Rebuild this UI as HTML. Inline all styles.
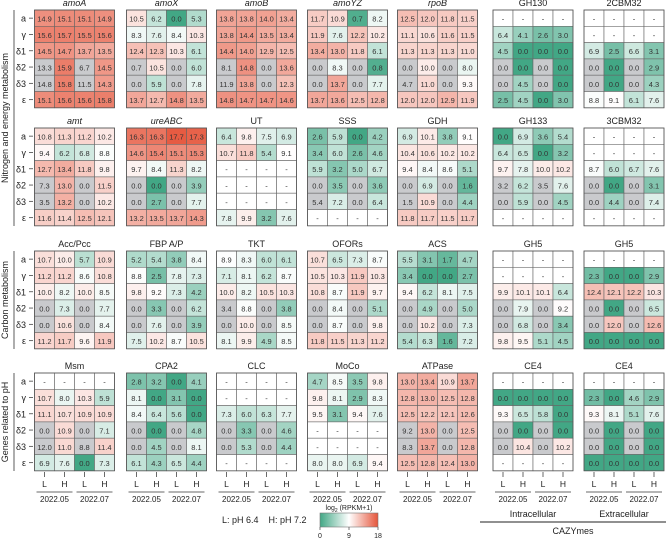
<!DOCTYPE html>
<html><head><meta charset="utf-8">
<style>
body{margin:0;background:#fff;}
svg{display:block;font-family:"Liberation Sans",sans-serif;}
</style></head>
<body>
<svg id="chart" width="666" height="541" viewBox="0 0 666 541" xmlns="http://www.w3.org/2000/svg"></svg>
<script>
const rowLabels = ["a","γ","δ1","δ2","δ3","ε"];
const colLabels = ["L","H","L","H"];
const dateLabels = ["2022.05","2022.07"];
const N = null;
const D = [N,N,N,N];
const panelNames = [
 ["amoA","amoX","amoB","amoYZ","rpoB","GH130","2CBM32"],
 ["amt","ureABC","UT","SSS","GDH","GH133","3CBM32"],
 ["Acc/Pcc","FBP A/P","TKT","OFORs","ACS","GH5","GH5"],
 ["Msm","CPA2","CLC","MoCo","ATPase","CE4","CE4"]
];
const italicNames = ["amoA","amoX","amoB","amoYZ","rpoB","amt","ureABC"];
const row1Values = [
 [[14.9,15.1,15.1,14.9],[15.6,15.7,15.5,15.6],[14.5,14.7,13.7,13.5],[13.3,15.9,6.7,14.5],[14.8,15.8,11.5,14.3],[15.1,15.6,15.6,15.8]],
 [[10.5,6.2,0.0,5.3],[8.3,7.6,8.4,10.3],[12.4,12.3,10.3,6.1],[0.7,10.5,0.0,6.0],[0.0,5.9,0.0,7.8],[13.7,12.7,14.8,13.5]],
 [[13.8,13.8,14.0,13.4],[13.8,14.4,13.5,13.4],[14.4,14.0,12.9,12.5],[8.1,14.8,0.0,13.6],[11.9,13.8,0.0,12.3],[14.8,14.7,14.7,14.6]],
 [[11.7,10.9,0.7,8.2],[11.9,7.6,12.2,10.2],[13.4,13.0,11.8,6.1],[0.0,8.3,0.0,0.8],[0.0,13.7,0.0,7.7],[13.7,13.6,12.5,12.8]],
 [[12.5,12.0,11.8,11.5],[11.1,10.6,11.6,11.5],[11.3,11.3,11.3,11.0],[0.0,10.0,0.0,8.0],[4.7,11.0,0.0,9.3],[12.0,12.0,12.9,11.9]],
 [D,[6.4,4.1,2.6,3.0],[4.5,0.0,0.0,0.0],[0.0,0.0,0.0,0.0],[0.0,4.5,0.0,0.0],[2.5,4.5,0.0,3.0]],
 [D,D,[6.9,2.5,6.6,3.1],[0.0,0.0,0.0,2.9],[0.0,0.0,0.0,4.3],[8.8,9.1,6.1,7.6]]
];
const row2Values = [
 [[10.8,11.3,11.2,10.2],[9.4,6.2,6.8,8.8],[12.7,13.4,11.8,9.8],[7.3,13.0,0.0,11.5],[3.5,13.2,0.0,10.2],[11.6,11.4,12.5,12.1]],
 [[16.3,16.3,17.7,17.3],[14.6,15.4,15.1,15.3],[9.7,8.4,11.3,8.2],[0.0,0.0,0.0,3.9],[0.0,2.7,0.0,7.7],[13.2,13.5,13.7,14.3]],
 [[6.4,9.8,7.5,6.9],[10.7,11.8,5.4,9.1],D,D,D,[7.8,9.9,3.2,7.6]],
 [[2.6,5.9,0.0,4.2],[3.4,6.0,2.6,4.6],[5.9,3.2,5.0,6.7],[0.0,3.5,0.0,3.6],[5.4,7.2,0.0,6.4],D],
 [[6.9,10.1,3.8,9.1],[10.4,10.6,10.2,10.2],[9.4,8.4,8.6,5.1],[0.0,6.9,0.0,1.6],[1.5,10.9,0.0,4.4],[11.8,11.7,11.5,11.7]],
 [[0.0,6.9,3.6,5.4],[6.4,6.5,0.0,3.2],[9.7,7.8,10.0,10.2],[3.2,6.2,3.5,7.6],[0.0,5.9,0.0,4.5],D],
 [D,D,[8.7,6.0,6.7,7.6],[0.0,0.0,0.0,3.1],[0.0,4.4,0.0,7.4],D]
];
const row3Values = [
 [[10.7,10.0,5.7,10.9],[11.2,11.2,8.6,10.8],[10.0,8.2,10.0,8.5],[0.0,7.3,0.0,7.7],[0.0,10.6,0.0,8.4],[11.2,11.7,9.6,11.9]],
 [[5.2,5.4,3.8,8.4],[8.8,2.5,7.8,7.3],[9.8,9.2,7.3,4.2],[0.0,3.3,0.0,6.2],[0.0,7.6,0.0,3.9],[7.5,10.2,8.7,10.5]],
 [[8.9,8.3,6.0,6.1],[7.1,8.1,6.2,8.7],[10.0,8.2,10.5,10.3],[3.4,8.8,0.0,3.8],[0.0,10.0,0.0,8.5],[8.1,9.9,4.9,8.5]],
 [[10.7,6.5,7.3,8.7],[10.5,10.3,11.9,10.3],[10.8,8.7,11.9,9.7],[0.0,8.4,0.0,5.1],[0.0,8.7,0.0,9.8],[11.8,11.5,11.3,11.2]],
 [[5.5,3.1,1.7,4.7],[3.4,0.0,0.0,2.7],[9.4,6.2,8.1,7.5],[0.0,4.9,0.0,5.0],[0.0,10.2,0.0,7.3],[5.4,6.3,1.6,7.2]],
 [D,D,[9.9,10.1,10.1,6.4],[0.0,7.9,0.0,9.2],[0.0,6.8,0.0,3.4],[9.8,9.5,5.1,4.5]],
 [D,[2.3,0.0,0.0,2.9],[12.4,12.1,12.2,10.3],[0.0,0.0,0.0,6.5],[0.0,12.0,0.0,12.6],[0.0,0.0,0.0,0.0]]
];
const row4Values = [
 [D,[10.7,8.0,10.3,5.9],[11.1,10.7,10.9,10.9],[0.0,10.9,0.0,7.1],[12.0,11.0,8.8,11.4],[6.9,7.6,0.0,7.3]],
 [[2.8,3.2,0.0,4.1],[8.1,0.0,3.1,0.0],[8.4,6.4,5.6,0.0],[0.0,0.0,0.0,4.8],[0.0,4.5,0.0,8.1],[6.1,4.3,6.5,4.4]],
 [D,D,[7.3,6.0,6.3,7.7],[0.0,3.3,0.0,4.6],[0.0,5.3,0.0,4.4],D],
 [[4.7,8.5,3.5,9.8],[9.8,8.1,2.9,8.3],[9.5,3.1,9.4,7.6],D,D,[8.0,8.0,6.9,9.4]],
 [[13.0,13.4,10.9,13.7],[12.8,13.0,12.5,12.8],[12.5,12.2,12.1,12.6],[9.2,13.0,0.0,12.5],[8.3,13.7,0.0,12.8],[12.5,12.8,12.4,13.0]],
 [D,[0.0,0.0,0.0,0.0],[9.3,6.5,5.8,0.0],[0.0,0.0,0.0,0.0],[0.0,10.4,0.0,10.2],D],
 [D,[2.3,0.0,4.6,2.9],[9.3,8.1,5.1,7.6],[0.0,0.0,0.0,0.0],[0.0,0.0,0.0,0.0],[0.0,0.0,0.0,0.0]]
];
const allValues = [row1Values,row2Values,row3Values,row4Values];
const groupLabels = ["Nitrogen and energy metabolism","Carbon metabolism","Genes related to pH"];
const colorTicks = [0,9,18];

const svg = document.getElementById('chart');
const NS = "http://www.w3.org/2000/svg";
function mk(tag, attrs, parent){
  const e = document.createElementNS(NS, tag);
  for (const k in attrs) e.setAttribute(k, attrs[k]);
  (parent||svg).appendChild(e);
  return e;
}
const panelX = [34.5,126.5,216.5,307.5,397.5,493,584];
const panelY = [10,128,251,373];
const CW = 20, CH = 16.3;
const xPos = (p,c) => panelX[p] + c*CW;
const yPos = (r,i) => panelY[r] + i*CH;
const teal=[66,167,133], red=[229,85,59];
function color(v){
  const t = Math.max(-1, Math.min(1,(v-9)/9));
  const c = t<0 ? teal : red, a = Math.abs(t);
  return `rgb(${Math.round(255+(c[0]-255)*a)},${Math.round(255+(c[1]-255)*a)},${Math.round(255+(c[2]-255)*a)})`;
}

allValues.forEach((rowSet, r) => {
  rowSet.forEach((panel, p) => {
    const name = panelNames[r][p];
    const g = mk('g', {});
    
    
    const t = mk('text', {x: xPos(p,0)+2*CW, y: panelY[r]-4, 'text-anchor':'middle','font-size':9,fill:'#222','font-style': italicNames.includes(name)?'italic':'normal'}, g);
    t.textContent = name;
    
    
    panel.forEach((vals, i) => {
      vals.forEach((v, c) => {
        let fill = '#fff';
        if (v !== null) fill = ((i===3||i===4) && (c===0||c===2)) ? '#c9cacd' : color(v);
        const rect = mk('rect', {x:xPos(p,c), y:yPos(r,i), width:CW, height:CH, fill, stroke:'#666','stroke-width':0.6}, g);
        
        
        const tx = mk('text', {x:xPos(p,c)+CW/2, y:yPos(r,i)+11.6, 'text-anchor':'middle','font-size':7.5,fill:'#333'}, g);
        tx.textContent = v===null ? '-' : v.toFixed(1);
        
        
      });
    });
    mk('rect', {x:xPos(p,0), y:panelY[r], width:4*CW, height:6*CH, fill:'none', stroke:'#555','stroke-width':0.8}, g);
  });
  rowLabels.forEach((lab, i) => {
    const y = yPos(r,i)+CH/2;
    const t = mk('text', {x:26, y:y+3.5, 'text-anchor':'end','font-size':9,fill:'#222'});
    t.textContent = lab;
    
    
    mk('line', {x1:29, x2:33, y1:y, y2:y, stroke:'#444','stroke-width':0.8});
  });
});

const groupSpans = [[10,226],[251,349],[373,471]];
groupSpans.forEach((s, k) => {
  mk('line', {x1:14, x2:14, y1:s[0], y2:s[1], stroke:'#333','stroke-width':0.8});
  const cy = (s[0]+s[1])/2;
  const t = mk('text', {x:8, y:cy, transform:`rotate(-90 8 ${cy})`, 'text-anchor':'middle','font-size':9,fill:'#222'});
  t.textContent = groupLabels[k];
  
  
});

panelX.forEach((px, p) => {
  colLabels.forEach((lab, c) => {
    const x = xPos(p,c)+CW/2;
    mk('line', {x1:x, x2:x, y1:472, y2:477, stroke:'#444','stroke-width':0.8});
    const t = mk('text', {x, y:487, 'text-anchor':'middle','font-size':8.5,fill:'#222'});
    t.textContent = lab;
    
    
  });
  dateLabels.forEach((d, k) => {
    const x0 = xPos(p,2*k)+2, x1 = xPos(p,2*k+2)-2;
    mk('line', {x1:x0, x2:x1, y1:492, y2:492, stroke:'#888','stroke-width':1.2});
    const t = mk('text', {x:(x0+x1)/2, y:502, 'text-anchor':'middle','font-size':8,fill:'#222'});
    t.textContent = d;
    
    
  });
});

[['Intracellular',5],['Extracellular',6]].forEach(([txt,p]) => {
  const t = mk('text', {x:xPos(p,0)+2*CW, y:517, 'text-anchor':'middle','font-size':9,fill:'#222'});
  t.textContent = txt;
  
  
});
mk('line', {x1:480, x2:666, y1:522, y2:522, stroke:'#222','stroke-width':1});
const cz = mk('text', {x:573, y:534, 'text-anchor':'middle','font-size':9,fill:'#222'});
cz.textContent = 'CAZYmes';



const lg = mk('text', {x:222, y:523, 'font-size':9,fill:'#222'});
lg.textContent = 'L: pH 6.4    H: pH 7.2';


lg.style.whiteSpace = 'pre';

const defs = mk('defs', {});
const grad = mk('linearGradient', {id:'cb', x1:0, x2:1, y1:0, y2:0}, defs);
mk('stop', {offset:'0', 'stop-color':color(0)}, grad);
mk('stop', {offset:'0.5', 'stop-color':'#fff'}, grad);
mk('stop', {offset:'1', 'stop-color':color(18)}, grad);
const cbX0 = 320, cbW = 58;
const cb = mk('rect', {x:cbX0, y:513, width:cbW, height:14, fill:'url(#cb)', stroke:'#777','stroke-width':0.6});


const cbt = mk('text', {x:cbX0+cbW/2, y:510, 'text-anchor':'middle','font-size':7,fill:'#222'});
cbt.innerHTML = 'log<tspan font-size="5" dy="2">2</tspan><tspan dy="-2"> (RPKM+1)</tspan>';


colorTicks.forEach(v => {
  const x = cbX0 + v/18*cbW;
  mk('line', {x1:x, x2:x, y1:527, y2:530, stroke:'#444','stroke-width':0.7});
  const t = mk('text', {x, y:538, 'text-anchor':'middle','font-size':7,fill:'#222'});
  t.textContent = v;
  
  
});
</script>
</body></html>
